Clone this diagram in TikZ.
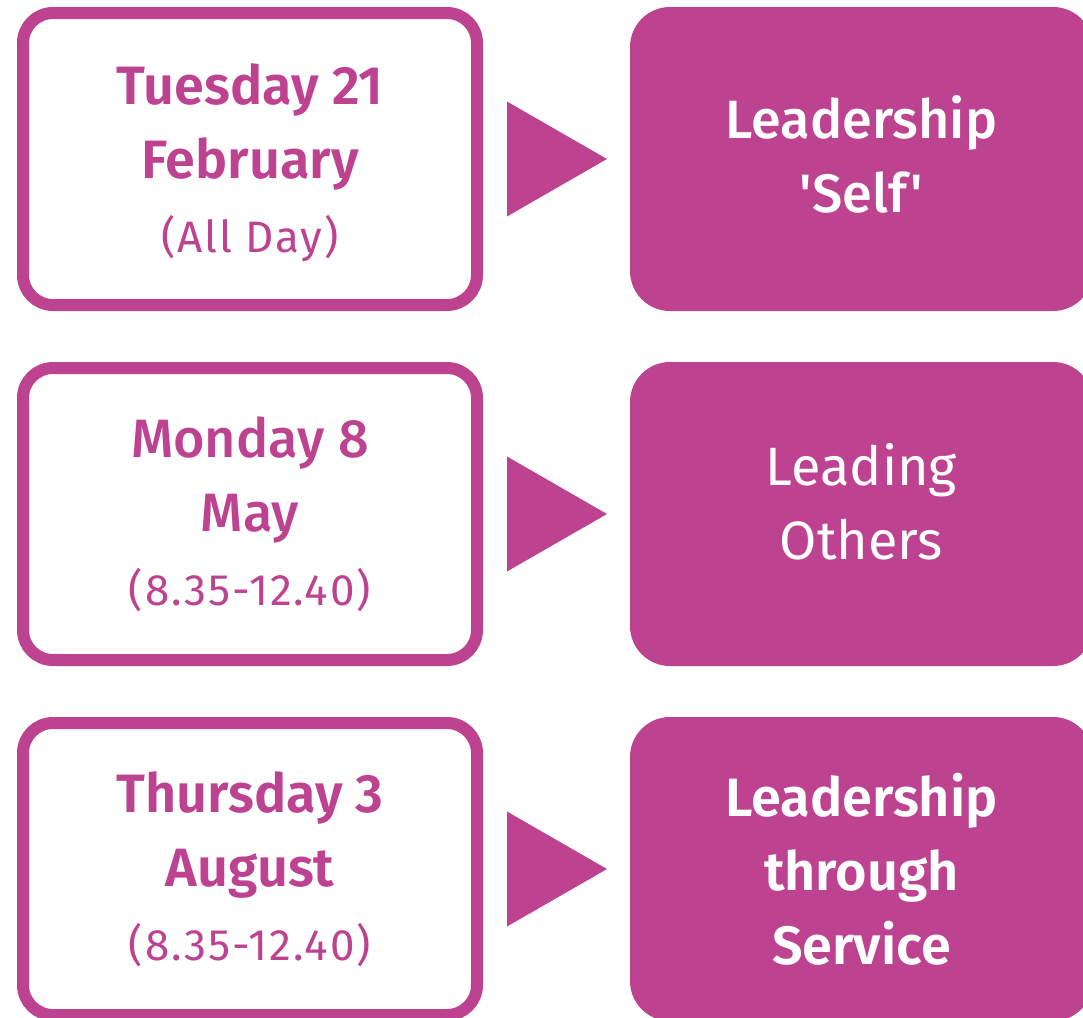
\documentclass[tikz,border=0pt]{standalone}
\usepackage{fontspec}
\setmainfont{Fira Sans}
\newfontfamily\semibold{Fira Sans SemiBold}
\newfontfamily\medium{Fira Sans Medium}
\newfontfamily\spaced[LetterSpace=4.5]{Fira Sans}
\usepackage{tikz}
\usetikzlibrary{positioning,shapes.geometric}
\definecolor{lbmagenta}{RGB}{189,67,145}
\newcommand{\timefont}{\fontsize{44}{75}\selectfont\spaced}
\tikzstyle{datebox} = [rectangle, rounded corners=30pt, draw=lbmagenta, line width=12pt, fill=white, minimum width=454pt, minimum height=292pt, inner sep=0pt, outer sep=0pt, align=center, text=lbmagenta]
\tikzstyle{topicbox} = [rectangle, rounded corners=40pt, fill=lbmagenta, minimum width=463pt, minimum height=304pt, inner sep=0pt, outer sep=0pt, align=center, text=white]
\tikzstyle{pointer} = [isosceles triangle, isosceles triangle stretches, fill=lbmagenta, minimum width=115pt, minimum height=100pt, inner sep=0pt, outer sep=0pt]

\begin{document}
\begin{tikzpicture}[x=1pt, y=1pt, node distance=63pt]
\useasboundingbox (0,0) rectangle (1083,-1017);
\clip (0,0) rectangle (1083,-1017);
% Session dates
\node (date1) [datebox, font=\fontsize{54}{74}\selectfont\semibold, text depth=2pt] at (250,-159) {Tuesday 21\\February\\\timefont (All Day)};
\node (date2) [datebox, font=\fontsize{54}{74}\selectfont\medium, below=of date1] {Monday 8\\May\\\timefont (8.35-12.40)};
\node (date3) [datebox, font=\fontsize{54}{74}\selectfont\semibold, below=of date2] {Thursday 3\\August\\\timefont (8.35-12.40)};

% Session topics
\node (topic1) [topicbox, font=\fontsize{54}{74}\selectfont\medium, text depth=10pt, right=153pt of date1] {Leadership\\'Self'};
\node (topic2) [topicbox, font=\fontsize{54}{74}\selectfont, text depth=26pt, right=153pt of date2] {Leading\\Others};
\node (topic3) [topicbox, font=\fontsize{54}{74}\selectfont\semibold, right=153pt of date3] {Leadership\\through\\Service};

% Pointers
\node (arrow1) [pointer, right=30pt of date1] {};
\node (arrow2) [pointer, right=30pt of date2] {};
\node (arrow3) [pointer, right=30pt of date3] {};
\end{tikzpicture}
\end{document}
